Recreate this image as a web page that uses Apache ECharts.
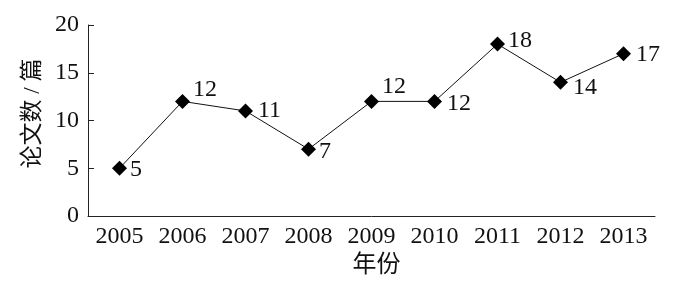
<!DOCTYPE html>
<html><head><meta charset="utf-8">
<script src="https://cdn.jsdelivr.net/npm/echarts@6/dist/echarts.min.js"></script>
<style>html,body{margin:0;padding:0;background:#fff}#c{width:686px;height:289px}</style>
</head><body><div id="c"></div>
<script>
const years = ['2005','2006','2007','2008','2009','2010','2011','2012','2013'];
const papers = [5,12,11,7,12,12,18,14,17];
const labelOffsets = [[0,1],[0,-12],[2,0],[0,3],[0,-15],[2,2],[0,-3],[2,5],[2,1]];
const yTicks = [0,5,10,15,20];
const font = "Times New Roman, Liberation Serif, Noto Sans CJK SC, serif";
const chart = echarts.init(document.getElementById('c'));
chart.setOption({
  animation:false,
  grid:{left:88,right:31,top:25,bottom:73,outerBoundsMode:'none',containLabel:false},
  xAxis:{type:'category',data:years,boundaryGap:true,
    name:'年份',nameLocation:'middle',nameGap:38,
    nameTextStyle:{fontFamily:font,fontSize:24,color:'#111',padding:[0,0,0,10]},
    axisLine:{lineStyle:{color:'#222',width:1}},
    axisTick:{inside:true,length:6,lineStyle:{color:'#222'}},
    axisLabel:{fontFamily:font,fontSize:24,color:'#111',margin:9}},
  yAxis:{type:'value',min:0,max:20,interval:5,
    name:'论文数 / 篇',nameLocation:'middle',nameGap:38,
    nameTextStyle:{fontFamily:font,fontSize:23,color:'#111',padding:[0,0,0,14]},
    axisLine:{show:true,lineStyle:{color:'#222',width:1}},
    axisTick:{show:true,inside:true,length:6,lineStyle:{color:'#222'}},
    splitLine:{show:false},
    axisLabel:{fontFamily:font,fontSize:24,color:'#111',margin:9,
      formatter:v=>yTicks.includes(v)?String(v):''}},
  series:[{type:'line',
    data:papers.map((v,i)=>({value:v,label:{offset:labelOffsets[i]}})),
    symbol:'diamond',symbolSize:15,
    lineStyle:{color:'#111',width:1},
    itemStyle:{color:'#000'},
    label:{show:true,position:'right',distance:3,fontFamily:font,fontSize:24,color:'#111'}}]
});
</script></body></html>
